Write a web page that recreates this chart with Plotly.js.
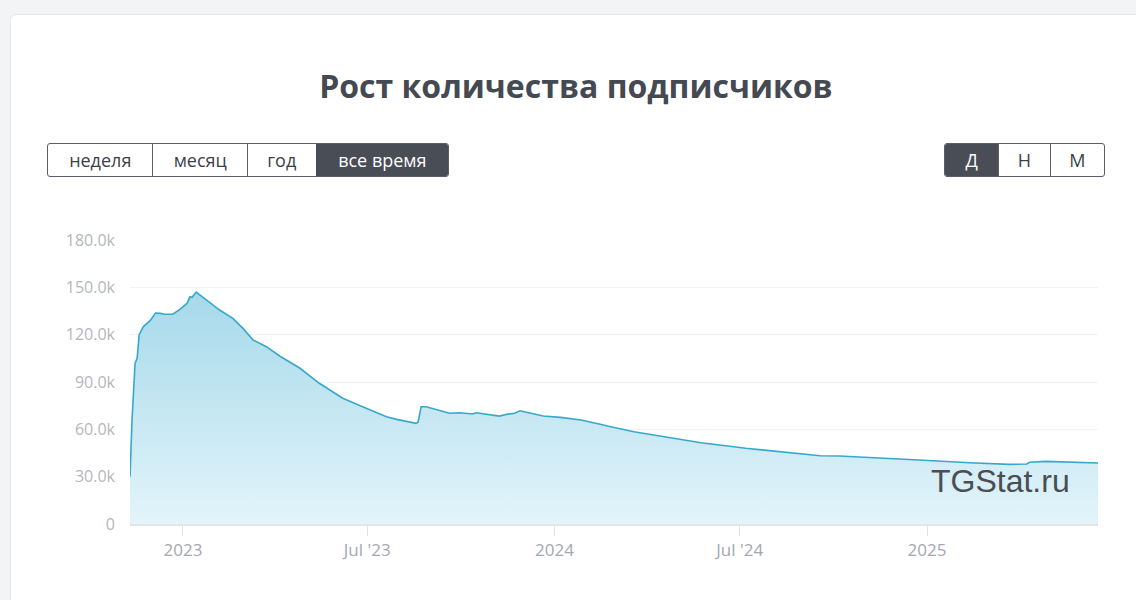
<!DOCTYPE html>
<html>
<head>
<meta charset="utf-8">
<script src="https://cdn.plot.ly/plotly-3.0.1.min.js"></script>
<style>
  html, body { margin:0; padding:0; }
  body { width:1136px; height:600px; background:#f3f4f6; position:relative; overflow:hidden; font-family:"Open Sans", sans-serif; }
  #card { position:absolute; left:10px; top:14px; width:1140px; height:620px; background:#fff; border:1px solid #e4e6ea; border-radius:6px; }
  #chart { position:absolute; left:0; top:0; width:1136px; height:600px; }
  .grp { position:absolute; top:143px; height:34px; display:flex; border:1px solid #5a5f68; border-radius:3px; overflow:hidden; box-sizing:border-box; }
  .grp div { height:32px; line-height:32px; text-align:center; font-size:18px; color:#3a3f47; border-left:1px solid #5a5f68; box-sizing:border-box; font-family:"Open Sans", sans-serif; }
  .grp div:first-child { border-left:none; }
  .grp div.on { background:#484d56; color:#fff; border-left-color:#484d56; }
</style>
</head>
<body>
<div id="card"></div>
<div class="grp" id="g1" style="left:47px; width:402px;"></div>
<div class="grp" id="g2" style="left:944px; width:161px;"></div>
<div id="chart"></div>
<script>
const titleText = "Рост количества подписчиков";
const rangeButtons = ["неделя", "месяц", "год", "все время"];
const rangeWidths = [105, 95, 69, 133];
const periodButtons = ["Д", "Н", "М"];
const periodWidths = [54, 52, 55];

const dates = [
  "2022-11-10","2022-11-12","2022-11-15","2022-11-17","2022-11-19","2022-11-23","2022-11-30",
  "2022-12-05","2022-12-10","2022-12-14","2022-12-22","2022-12-29",
  "2023-01-05","2023-01-08","2023-01-10","2023-01-14","2023-01-24","2023-02-06","2023-02-19",
  "2023-03-01","2023-03-11","2023-03-24","2023-04-06","2023-04-26","2023-05-15","2023-06-07",
  "2023-06-30","2023-07-20","2023-07-30","2023-08-02","2023-08-18","2023-08-20","2023-08-22",
  "2023-08-23","2023-08-28","2023-09-20","2023-09-30","2023-10-13","2023-10-16","2023-11-08",
  "2023-11-15","2023-11-23","2023-11-28","2023-12-21","2024-01-07","2024-01-20","2024-01-27",
  "2024-02-15","2024-02-22","2024-03-19","2024-04-17","2024-05-24","2024-07-07","2024-08-16",
  "2024-09-18","2024-10-07","2024-11-05","2024-12-24","2025-02-12","2025-03-23","2025-04-09",
  "2025-04-12","2025-04-28","2025-05-25","2025-06-18"
];
const subscribers = [
  30000,66000,102000,105000,120000,125000,129000,
  133700,133500,132900,133000,136000,
  139800,144000,143700,147000,142000,135600,130300,
  124000,116600,112400,106500,98700,89200,79700,
  73300,68000,66300,65900,63800,64500,72000,
  74300,74300,70200,70500,69700,70500,68400,
  69500,70200,71800,68400,67600,66300,65900,
  63200,62100,58500,55300,51500,48000,45200,
  43300,43100,42300,40600,38800,37800,38000,
  39100,39700,39300,38700
];

const xTickVals = ["2023-01-01","2023-07-01","2024-01-01","2024-07-01","2025-01-01"];
const xTickText = ["2023","Jul '23","2024","Jul '24","2025"];
const yTickVals = [0,30000,60000,90000,120000,150000,180000];
const yTickText = ["0","30.0k","60.0k","90.0k","120.0k","150.0k","180.0k"];

function buildGroup(id, labels, widths, activeIdx) {
  const g = document.getElementById(id);
  labels.forEach((t, i) => {
    const d = document.createElement("div");
    d.textContent = t;
    d.style.width = widths[i] + "px";
    if (i === activeIdx) d.className = "on";
    g.appendChild(d);
  });
}
buildGroup("g1", rangeButtons, rangeWidths, 3);
buildGroup("g2", periodButtons, periodWidths, 0);

const trace = {
  x: dates, y: subscribers, type: "scatter", mode: "lines",
  line: { color: "#36a9cb", width: 1.6, shape: "linear" },
  fill: "tozeroy",
  fillgradient: { type: "vertical", colorscale: [[0, "#e3f4fa"], [1, "#a6d9ea"]], start: 0, stop: 147000 },
  hoverinfo: "skip"
};

const layout = {
  width: 1136, height: 600,
  paper_bgcolor: "rgba(0,0,0,0)", plot_bgcolor: "rgba(0,0,0,0)",
  margin: { l: 130, r: 38, t: 240, b: 76 },
  showlegend: false,
  title: {
    text: titleText, xref: "container", yref: "container", x: 0.507, xanchor: "center",
    y: 0.855, yanchor: "middle",
    font: { family: "Open Sans, sans-serif", size: 32, color: "#454a52", weight: 700 }
  },
  xaxis: {
    type: "date", range: ["2022-11-10", "2025-06-18"],
    tickvals: xTickVals, ticktext: xTickText,
    showgrid: false, zeroline: false,
    showline: true, linecolor: "#e3e5e8", linewidth: 2,
    ticks: "outside", ticklen: 10, tickcolor: "#dfe1e5", tickwidth: 1,
    tickfont: { family: "Open Sans, sans-serif", size: 17, color: "#a4a8b0" },
    fixedrange: true
  },
  yaxis: {
    range: [0, 180000],
    tickvals: yTickVals, ticktext: yTickText,
    showgrid: true, gridcolor: "#f2f3f5", gridwidth: 1,
    zeroline: false, showline: false, ticks: "",
    ticklabelstandoff: 14,
    tickfont: { family: "Open Sans, sans-serif", size: 16, color: "#b3b7bd" },
    fixedrange: true
  },
  annotations: [{
    text: "TGStat.ru", xref: "paper", yref: "paper", x: 0.973, y: 0.15,
    xanchor: "right", yanchor: "middle", showarrow: false,
    font: { family: "Liberation Sans, Arial, sans-serif", size: 32, color: "#4a4d52" }
  }]
};

Plotly.newPlot("chart", [trace], layout, { displayModeBar: false, staticPlot: true });
</script>
</body>
</html>
